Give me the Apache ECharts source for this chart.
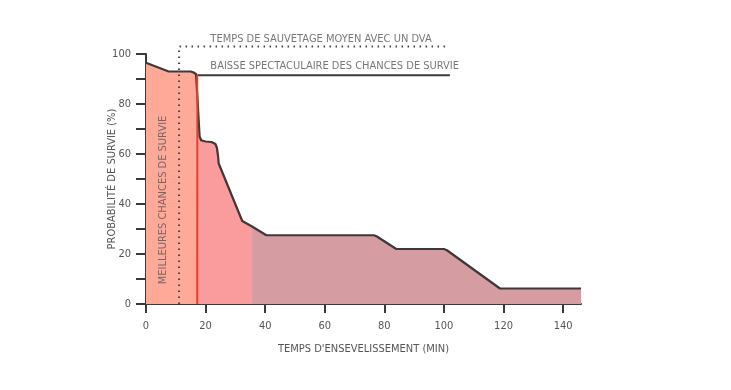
<!DOCTYPE html>
<html><head><meta charset="utf-8">
<script src="https://cdn.jsdelivr.net/npm/echarts@6/dist/echarts.min.js"></script>
<style>html,body{margin:0;padding:0;background:#fff}#c{width:731px;height:390px}</style>
</head><body><div id="c"></div>
<script>
// Survival curve (minutes, %)
const curveX = [0, 7.6, 15, 16, 16.8, 17.2, 18, 18.5, 20, 22, 23.3, 23.8, 24.2, 24.4, 32.3, 35.6, 40.4, 76.5, 77.5, 84, 100, 101, 118.8, 146];
const curveY = [96.5, 93, 93, 92.6, 91.9, 91.2, 67, 65.5, 65, 64.8, 64, 62.5, 59, 56.2, 33.2, 31.0, 27.5, 27.5, 27, 22, 22, 21.5, 6.2, 6.2];
// Colour zone boundaries (minutes)
const zoneBounds = [0, 17.2, 35.6, 146];
const zoneColors = ['#ffaa98', '#fa9c9e', '#d59da2'];
// Annotations
const rescueTime = 11.1;          // dotted line: average rescue time with a DVA
const rescueTop = 103;
const rescueEnd = 101;
const dropTime = 17.2;             // red line
const dropLevel = 91.5;
const dropEnd = 102;
const xTicks = [0, 20, 40, 60, 80, 100, 120, 140];
const yTicks = [0, 10, 20, 30, 40, 50, 60, 70, 80, 90, 100];
const yLabels = [0, 20, 40, 60, 80, 100];
const texts = {
  rescue: 'TEMPS DE SAUVETAGE MOYEN AVEC UN DVA',
  drop: 'BAISSE SPECTACULAIRE DES CHANCES DE SURVIE',
  best: 'MEILLEURES CHANCES DE SURVIE',
  xName: "TEMPS D'ENSEVELISSEMENT (MIN)",
  yName: 'PROBABILITÉ DE SURVIE (%)'
};

const FONT = '"Liberation Sans Narrow", "DejaVu Sans Condensed", sans-serif';
const TXT = '#555';
const DARK = '#3a3a3a';

const curve = curveX.map((x, i) => [x, curveY[i]]);
function valueAt(x) {
  for (let i = 1; i < curve.length; i++) {
    if (x <= curve[i][0]) {
      const [x0, y0] = curve[i - 1], [x1, y1] = curve[i];
      return y0 + (y1 - y0) * (x - x0) / (x1 - x0);
    }
  }
  return curve[curve.length - 1][1];
}
function zoneData(a, b) {
  const pts = [[a, valueAt(a)]];
  curve.forEach(p => { if (p[0] > a && p[0] < b) pts.push(p); });
  pts.push([b, valueAt(b)]);
  return pts;
}

const series = [];
zoneColors.forEach((c, i) => {
  series.push({
    type: 'line', data: zoneData(zoneBounds[i], zoneBounds[i + 1]),
    symbol: 'none', lineStyle: { width: 0 }, areaStyle: { color: c, opacity: 1 },
    silent: true, z: 1
  });
});
series.push({
  type: 'line', data: [[rescueTime, 0], [rescueTime, rescueTop], [rescueEnd, rescueTop]],
  symbol: 'none', clip: false, lineStyle: { color: '#444', width: 2, type: [1.5, 4.5] }, z: 3
});
series.push({
  type: 'line', data: curve, symbol: 'none',
  lineStyle: { color: DARK, width: 2.2, join: 'round' }, z: 4
});
series.push({
  type: 'line', data: [[dropTime, dropLevel], [dropEnd, dropLevel]], symbol: 'none',
  lineStyle: { color: DARK, width: 2 }, z: 4
});
series.push({
  type: 'line', data: [[dropTime, 0], [dropTime, dropLevel]], symbol: 'none',
  lineStyle: { color: '#e2402a', width: 2 }, z: 5
});
series.push({
  type: 'scatter', symbolSize: 0, clip: false, silent: true, z: 6,
  data: [
    { value: [21.6, 106], label: { formatter: texts.rescue } },
    { value: [21.6, 95], label: { formatter: texts.drop } }
  ],
  label: { show: true, position: 'right', distance: 0, color: TXT, fontSize: 11, fontFamily: FONT }
});
series.push({
  type: 'scatter', symbolSize: 0, silent: true, z: 6,
  data: [{ value: [5.8, 41.6], label: { formatter: texts.best } }],
  label: { show: true, position: 'inside', rotate: 90, color: TXT, fontSize: 11, fontFamily: FONT }
});

const chart = echarts.init(document.getElementById('c'));
chart.setOption({
  animation: false,
  grid: { left: 146, right: 150, top: 54, bottom: 86, containLabel: false },
  xAxis: {
    type: 'value', min: 0, max: 146,
    name: texts.xName, nameLocation: 'middle', nameGap: 40, nameMoveOverlap: false,
    nameTextStyle: { color: TXT, fontSize: 11, fontFamily: FONT },
    axisLine: { lineStyle: { color: DARK, width: 2 } },
    axisTick: { show: true, length: 9, lineStyle: { color: DARK, width: 2 }, customValues: xTicks },
    axisLabel: { color: TXT, fontSize: 11, fontFamily: FONT, margin: 17, customValues: xTicks },
    splitLine: { show: false }
  },
  yAxis: {
    type: 'value', min: 0, max: 100,
    name: texts.yName, nameLocation: 'middle', nameGap: 28, nameRotate: 90, nameMoveOverlap: false,
    nameTextStyle: { color: TXT, fontSize: 11, fontFamily: FONT },
    axisLine: { show: true, lineStyle: { color: DARK, width: 2 } },
    axisTick: { show: true, length: 10, lineStyle: { color: DARK, width: 2 }, customValues: yTicks },
    axisLabel: { color: TXT, fontSize: 11, fontFamily: FONT, margin: 15, customValues: yLabels },
    splitLine: { show: false }
  },
  series: series
});
</script></body></html>
